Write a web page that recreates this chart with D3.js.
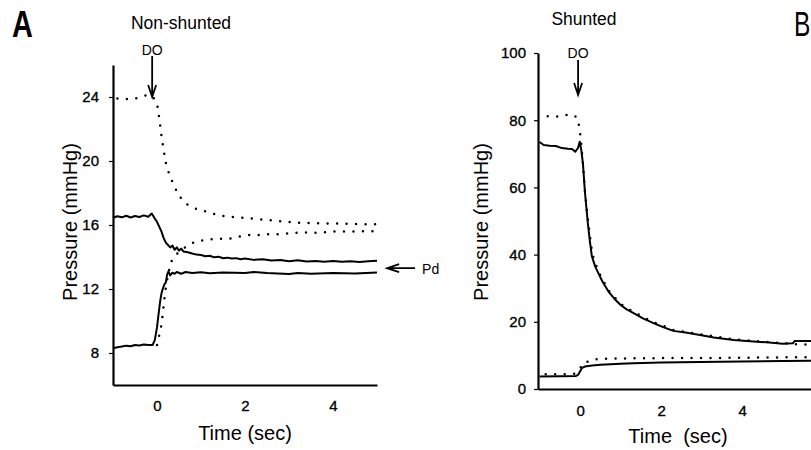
<!DOCTYPE html>
<html lang="en">
<head>
<meta charset="utf-8">
<title>Pressure after DO</title>
<script src="https://cdn.jsdelivr.net/npm/d3@7"></script>
<style>
  body { margin: 0; background: #fff; }
  svg text { font-family: "Liberation Sans", Arial, sans-serif; fill: #000; }
  .tick line, .domain { stroke: #000; }
</style>
</head>
<body>
<svg id="fig" width="811" height="450"></svg>
<script>
// ---- data: [time (sec), pressure (mmHg)] ----
// panel A, non-shunted
var aSolidUpper = [[-1,16.45],[-0.9,16.55],[-0.8,16.48],[-0.7,16.58],[-0.6,16.47],[-0.5,16.56],[-0.4,16.5],[-0.3,16.6],
  [-0.2,16.52],[-0.12,16.72],[-0.05,16.4],[0,16.2],[0.05,15.9],[0.1,15.6],[0.15,15.2],[0.2,14.9],[0.25,14.75],[0.3,14.6],
  [0.35,14.72],[0.4,14.45],[0.45,14.6],[0.5,14.4],[0.55,14.52],[0.6,14.35],[0.7,14.3],[0.8,14.22],[0.9,14.15],[1.0,14.12],
  [1.1,14.05],[1.2,14.08],[1.3,13.98],[1.4,14.02],[1.5,13.92],[1.6,13.96],[1.7,13.9],[1.8,13.93],[1.9,13.86],[2.0,13.9],
  [2.2,13.82],[2.4,13.86],[2.6,13.78],[2.8,13.81],[3.0,13.74],[3.2,13.79],[3.4,13.72],[3.6,13.75],[3.8,13.7],[4.0,13.75],
  [4.2,13.7],[4.4,13.73],[4.6,13.68],[4.8,13.73],[5.0,13.76]];
var aSolidLower = [[-1,8.3],[-0.9,8.36],[-0.8,8.4],[-0.7,8.46],[-0.6,8.42],[-0.5,8.5],[-0.4,8.47],[-0.3,8.53],[-0.2,8.5],
  [-0.1,8.5],[-0.05,8.8],[0,9.6],[0.03,10.3],[0.07,11.2],[0.1,11.7],[0.13,12.0],[0.17,12.3],[0.2,12.4],[0.23,12.9],
  [0.26,13.1],[0.3,12.85],[0.35,13.02],[0.4,12.95],[0.45,13.06],[0.55,12.95],[0.65,13.06],[0.8,13.0],[1.0,13.05],
  [1.2,12.98],[1.5,13.03],[2.0,13.0],[2.2,13.06],[2.5,13.0],[3.0,12.94],[3.2,13.0],[3.5,12.96],[4.0,13.0],[4.5,12.97],[5.0,13.03]];
var aDotDown = [[-0.9,23.9],[-0.7,23.88],[-0.5,23.9],[-0.4,24.0],[-0.25,24.1],[-0.1,24.05],[0,23.6],[0.05,22.7],[0.1,21.6],
  [0.15,20.7],[0.2,19.9],[0.25,19.4],[0.35,18.7],[0.45,18.1],[0.55,17.65],[0.7,17.25],[0.9,17.0],[1.1,16.85],[1.4,16.6],
  [1.7,16.5],[2.0,16.45],[2.3,16.35],[2.6,16.3],[2.9,16.2],[3.2,16.15],[3.5,16.12],[3.8,16.1],[4.1,16.1],[4.4,16.06],
  [4.7,16.05],[5.0,16.05]];
var aDotUp = [[0,8.5],[0.05,9.1],[0.1,9.75],[0.13,10.4],[0.18,11.7],[0.25,12.9],[0.32,13.7],[0.45,14.2],[0.64,14.6],
  [0.86,14.95],[1.1,15.06],[1.36,15.15],[1.6,15.12],[1.85,15.27],[2.1,15.37],[2.3,15.37],[2.57,15.44],[2.8,15.42],
  [3.06,15.5],[3.3,15.54],[3.55,15.5],[3.8,15.55],[4.0,15.6],[4.3,15.6],[4.6,15.6],[5.0,15.62]];

// panel B, shunted
var bSolidUpper = [[-1,73.5],[-0.9,72.6],[-0.75,72.4],[-0.6,72.3],[-0.45,71.7],[-0.3,71.5],[-0.2,71.4],[-0.12,70.6],
  [-0.05,71.8],[-0.01,73.6],[0.03,71.0],[0.07,67],[0.12,58.4],[0.19,49.4],[0.24,44],[0.29,39.5],[0.37,36.5],[0.45,34.5],
  [0.55,32],[0.7,29],[0.85,26.8],[1.0,25],[1.15,23.7],[1.32,22.6],[1.55,21.0],[1.81,19.6],[2.05,18.4],[2.3,17.3],
  [2.6,16.8],[2.96,16.1],[3.3,15.3],[3.79,14.6],[4.2,14.2],[4.6,13.9],[5.0,13.5],[5.25,13.6],[5.3,14.3],[5.7,14.3]];
var bDotUpper = [[-0.8,81.2],[-0.5,81.1],[-0.25,81.8],[-0.08,80.9],[-0.02,78],[0.02,74],[0.07,67],[0.12,58.6],[0.2,49.6],
  [0.3,40.2],[0.45,35],[0.7,29.3],[1.0,25.3],[1.32,22.9],[1.81,19.9],[2.06,18.8],[2.3,17.6],[2.96,16.3],[3.79,14.8],
  [4.6,14.0],[5.0,13.6],[5.3,13.3],[5.7,13.2]];
var bSolidLower = [[-1,3.7],[-0.5,3.8],[-0.1,3.9],[-0.05,4.2],[0,5.3],[0.05,6.3],[0.12,6.7],[0.3,7.0],[0.5,7.2],[1.0,7.5],
  [1.32,7.7],[2.0,7.85],[2.96,8.0],[4.0,8.2],[5.0,8.3],[5.7,8.4]];
var bDotLower = [[-0.85,4.4],[-0.4,4.4],[-0.15,4.5],[0,6.0],[0.04,7.4],[0.29,8.7],[0.5,9.0],[1.0,9.1],[2.0,9.2],[3.0,9.2],
  [4.0,9.3],[5.0,9.4],[5.7,9.5]];

var aTicksY = [8, 12, 16, 20, 24];
var bTicksY = [0, 20, 40, 60, 80, 100];
var ticksX = [0, 2, 4];

var svg = d3.select("#fig");
svg.append("rect").attr("width", 811).attr("height", 450).attr("fill", "#fff");

// scales
var xA = d3.scaleLinear().domain([-1, 5]).range([113, 377]);
var yA = d3.scaleLinear().domain([6, 26]).range([385, 65]);
var xB = d3.scaleLinear().domain([-1.04, 5.7]).range([538, 811]);
var yB = d3.scaleLinear().domain([0, 100]).range([389, 53]);

function drawPanel(x, y, ticksY, padY, padX) {
  var g = svg.append("g");
  var ay = g.append("g").attr("transform", "translate(" + x.range()[0] + ",0)")
    .call(d3.axisLeft(y).tickValues(ticksY).tickSize(4).tickSizeOuter(0).tickPadding(padY).tickFormat(d3.format("d")));
  var ax = g.append("g").attr("transform", "translate(0," + y.range()[0] + ")")
    .call(d3.axisBottom(x).tickValues(ticksX).tickSize(0).tickPadding(padX).tickFormat(d3.format("d")));
  [ay, ax].forEach(function(a) {
    a.select(".domain").attr("stroke-width", 2.2);
    a.selectAll(".tick line").attr("stroke-width", 1.2);
    a.selectAll("text").attr("font-size", 15).attr("font-family", "Liberation Sans, Arial, sans-serif")
      .attr("stroke", "#000").attr("stroke-width", 0.35);
  });
  return g;
}

function curve(x, y, data, dotted) {
  var line = d3.line().x(function(d) { return x(d[0]); }).y(function(d) { return y(d[1]); });
  var p = svg.append("path").attr("d", line(data)).attr("fill", "none").attr("stroke", "#000");
  if (dotted) {
    p.attr("stroke-width", 2.5).attr("stroke-linecap", "round").attr("stroke-dasharray", "0,9.5");
  } else {
    p.attr("stroke-width", 2).attr("stroke-linejoin", "round");
  }
}

function downArrow(x, yTop, yTip) {
  svg.append("path")
    .attr("d", "M" + x + "," + yTop + "V" + yTip + "M" + (x - 4) + "," + (yTip - 12) + "L" + x + "," + yTip + "L" + (x + 4) + "," + (yTip - 12))
    .attr("fill", "none").attr("stroke", "#000").attr("stroke-width", 1.8);
}

// panel A
drawPanel(xA, yA, aTicksY, 10, 15);
curve(xA, yA, aDotDown, true);
curve(xA, yA, aDotUp, true);
curve(xA, yA, aSolidUpper, false);
curve(xA, yA, aSolidLower, false);

// panel B
drawPanel(xB, yB, bTicksY, 8, 16);
curve(xB, yB, bDotUpper, true);
curve(xB, yB, bDotLower, true);
curve(xB, yB, bSolidUpper, false);
curve(xB, yB, bSolidLower, false);

// DO arrows
downArrow(xA(-0.11), 56, yA(24));
svg.append("text").attr("x", xA(-0.11)).attr("y", 55).attr("text-anchor", "middle").attr("font-size", 14).text("DO");
downArrow(xB(-0.05), 60, yB(87.5));
svg.append("text").attr("x", xB(-0.05)).attr("y", 58).attr("text-anchor", "middle").attr("font-size", 14).text("DO");

// Pd arrow
var pdY = yA(13.3), pdX = xA(5.23);
svg.append("path")
  .attr("d", "M" + pdX + "," + pdY + "H" + (pdX + 28) + "M" + (pdX + 12) + "," + (pdY - 4) + "L" + pdX + "," + pdY + "L" + (pdX + 12) + "," + (pdY + 4))
  .attr("fill", "none").attr("stroke", "#000").attr("stroke-width", 1.8);
svg.append("text").attr("x", pdX + 35).attr("y", pdY + 6).attr("font-size", 14).text("Pd");

// panel letters, condensed
svg.append("text").attr("transform", "translate(12,37) scale(0.78,1)").attr("font-size", 37).attr("font-weight", "bold").text("A");
svg.append("text").attr("transform", "translate(794,36) scale(0.7,1)").attr("font-size", 35).text("B");

// titles and axis labels
svg.append("text").attr("x", 181).attr("y", 29).attr("text-anchor", "middle").attr("font-size", 17.5).text("Non-shunted");
svg.append("text").attr("x", 584).attr("y", 25).attr("text-anchor", "middle").attr("font-size", 17.5).text("Shunted");
svg.append("text").attr("x", 245).attr("y", 440).attr("text-anchor", "middle").attr("font-size", 20).text("Time (sec)");
svg.append("text").attr("x", 678).attr("y", 443).attr("text-anchor", "middle").attr("font-size", 20).style("white-space", "pre").text("Time  (sec)");
svg.append("text").attr("transform", "translate(77,222) rotate(-90)").attr("text-anchor", "middle").attr("font-size", 20).text("Pressure (mmHg)");
svg.append("text").attr("transform", "translate(488,222) rotate(-90)").attr("text-anchor", "middle").attr("font-size", 20).text("Pressure (mmHg)");
</script>
</body>
</html>
